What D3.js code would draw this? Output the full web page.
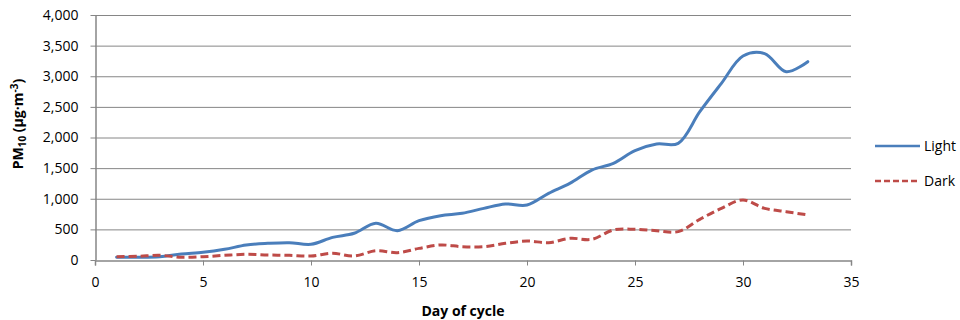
<!DOCTYPE html>
<html>
<head>
<meta charset="utf-8">
<script src="https://cdn.jsdelivr.net/npm/d3@7"></script>
<style>
  body { margin: 0; background: #fff; }
  text { font-family: "Open Sans", sans-serif; fill: #000; }
  .tick text { font-size: 14px; }
  .axis path, .axis line { stroke: #868686; }
  .grid line { stroke: #868686; stroke-width: 1; }
</style>
</head>
<body>
<svg id="graph" width="960" height="320"></svg>
<script>
"use strict";

var days = d3.range(1, 34);
var light = [44, 44, 54, 98, 125, 174, 245, 272, 283, 256,
             370, 436, 599, 479, 642, 724, 762, 843, 914, 898,
             1088, 1255, 1469, 1578, 1785, 1893, 1905, 2421, 2884, 3330,
             3370, 3075, 3238];
var dark = [54, 60, 76, 44, 54, 76, 93, 82, 76, 65,
            110, 65, 152, 120, 190, 245, 218, 218, 272, 310,
            283, 354, 338, 490, 501, 479, 463, 664, 843, 980,
            843, 789, 735];
var xTicks = [0, 5, 10, 15, 20, 25, 30, 35];
var yTicks = [0, 500, 1000, 1500, 2000, 2500, 3000, 3500, 4000];
var seriesNames = ["Light", "Dark"];
var seriesColors = ["#4a7ebb", "#be4b48"];

var
  svg = d3.select("#graph"),
  margin = {top: 15, left: 95},
  width = 756,
  height = 245
;

var
  x = d3.scaleLinear().domain([0, 35]).range([0, width]),
  y = d3.scaleLinear().domain([0, 4000]).range([height, 0])
;

var plot = svg.append("g")
  .attr("transform", "translate(" + margin.left + "," + margin.top + ")");

// Gridlines
plot.append("g")
  .attr("class", "grid")
  .selectAll("line")
  .data(yTicks.slice(1))
  .join("line")
    .attr("x1", 0)
    .attr("x2", width)
    .attr("y1", d => y(d) + 0.5)
    .attr("y2", d => y(d) + 0.5);

// Axes
plot.append("g")
  .attr("class", "axis")
  .attr("transform", "translate(0," + (height + 0.5) + ")")
  .call(d3.axisBottom(x).tickValues(xTicks).tickSize(5).tickSizeOuter(5).tickPadding(12))
  .call(g => g.select(".domain").attr("stroke-width", 1.5));

plot.append("g")
  .attr("class", "axis")
  .attr("transform", "translate(0.5,0)")
  .call(d3.axisLeft(y).tickValues(yTicks).tickSize(5).tickSizeOuter(0).tickPadding(12)
    .tickFormat(d3.format(",")))
  .call(g => g.select(".domain").attr("stroke-width", 1.5));

svg.selectAll(".tick text").attr("font-family", null).attr("font-size", null);

// Series
var series = [light, dark];
var line = d3.line()
  .x((d, i) => x(days[i]))
  .y(d => y(d))
  .curve(d3.curveCatmullRom.alpha(0.5));

plot.selectAll("path.series")
  .data(series)
  .join("path")
    .attr("class", "series")
    .attr("fill", "none")
    .attr("stroke", (d, i) => seriesColors[i])
    .attr("stroke-width", 3)
    .attr("stroke-linecap", (d, i) => i ? "butt" : "round")
    .attr("stroke-dasharray", (d, i) => i ? "8,4" : null)
    .attr("d", line);

// Axis titles
svg.append("text")
  .attr("x", margin.left + x(17.5) - 10)
  .attr("y", 316)
  .attr("text-anchor", "middle")
  .attr("font-size", "14px")
  .attr("font-weight", "bold")
  .text("Day of cycle");

var yLabel = svg.append("text")
  .attr("transform", "translate(23,124) rotate(-90)")
  .attr("text-anchor", "middle")
  .attr("font-size", "14px")
  .attr("font-weight", "bold");
yLabel.append("tspan").text("PM");
yLabel.append("tspan").attr("font-size", "10px").attr("dy", 3).text("10");
yLabel.append("tspan").attr("dy", -3).text(" (µg·m");
yLabel.append("tspan").attr("font-size", "10px").attr("dy", -5).text("-3");
yLabel.append("tspan").attr("dy", 5).text(")");

// Legend
var legend = svg.append("g")
  .selectAll("g")
  .data(seriesNames)
  .join("g")
    .attr("transform", (d, i) => "translate(875," + (146 + i * 35) + ")");

legend.append("line")
  .attr("x1", 0)
  .attr("x2", 45)
  .attr("stroke", (d, i) => seriesColors[i])
  .attr("stroke-width", 2.5)
  .attr("stroke-dasharray", (d, i) => i ? "6,3" : null);

legend.append("text")
  .attr("x", 49)
  .attr("y", 5)
  .attr("font-size", "14px")
  .text(d => d);
</script>
</body>
</html>
